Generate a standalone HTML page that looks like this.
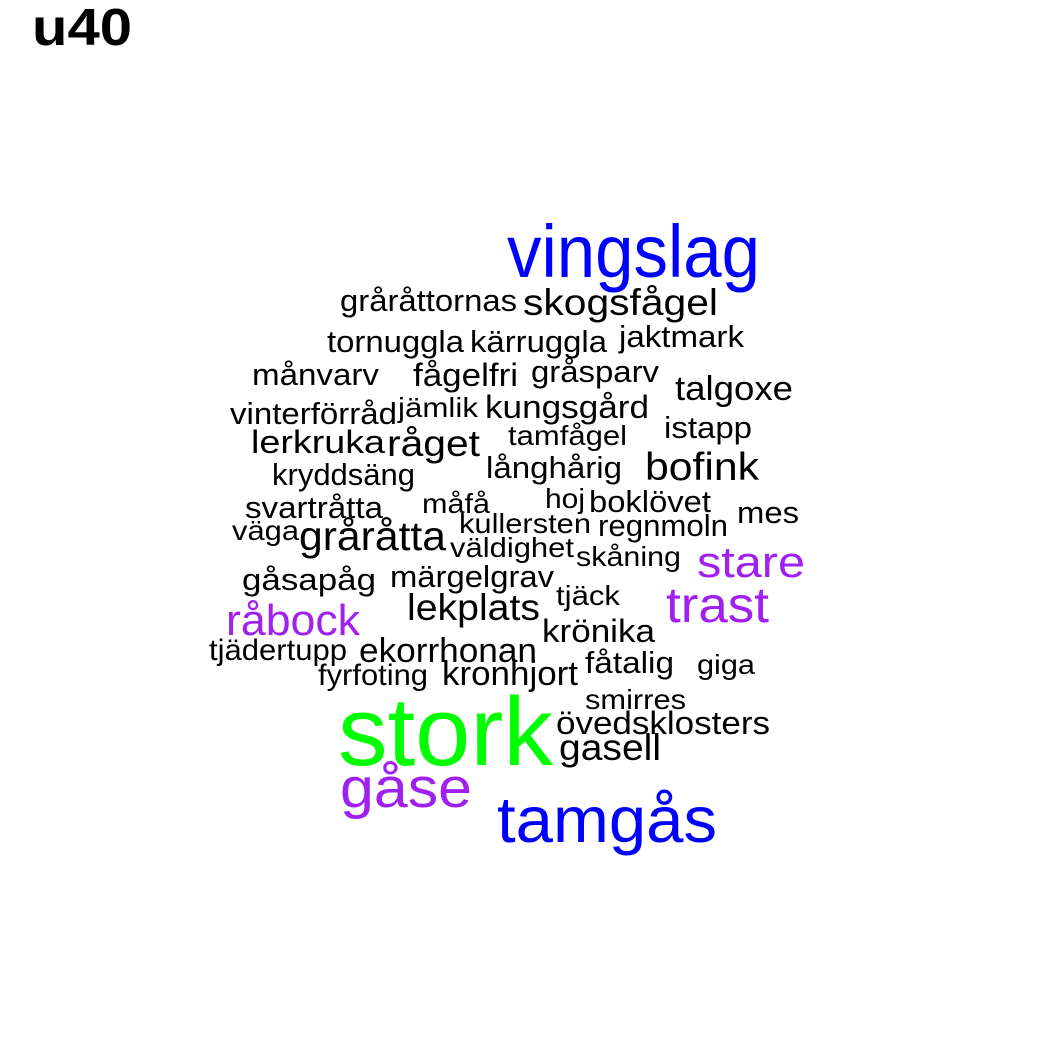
<!DOCTYPE html>
<html><head><meta charset="utf-8"><style>html,body{margin:0;padding:0;background:#fff}svg{display:block}text{font-family:"Liberation Sans",Arial,sans-serif}</style></head>
<body>
<svg id="cloud" width="1050" height="1050" viewBox="0 0 1050 1050" xmlns="http://www.w3.org/2000/svg">
<rect width="1050" height="1050" fill="#fff"/>
<text x="32" y="45" font-size="52" font-weight="bold" fill="#000" textLength="100" lengthAdjust="spacingAndGlyphs">u40</text>
</svg>
<script>
const words=["vingslag","gråråttornas","skogsfågel","tornuggla","kärruggla","jaktmark","månvarv","fågelfri","gråsparv","talgoxe","vinterförråd","jämlik","kungsgård","istapp","lerkruka","råget","tamfågel","långhårig","bofink","kryddsäng","svartråtta","måfå","hoj","boklövet","mes","väga","gråråtta","kullersten","regnmoln","väldighet","skåning","stare","gåsapåg","märgelgrav","tjäck","trast","råbock","lekplats","krönika","tjädertupp","ekorrhonan","fåtalig","giga","fyrfoting","kronhjort","smirres","stork","övedsklosters","gasell","gåse","tamgås"];
const sizes=[69,28,34,28,28,28,28,30,28,32,28,26,30,28,30,34,26,28,36,28,28,26,26,28,28,26,38,26,28,26,26,40,28,28,26,46,40,34,30,27,32,28,26,27,32,26,90,30,34,52,60];
const colors=["#0000ff","#000","#000","#000","#000","#000","#000","#000","#000","#000","#000","#000","#000","#000","#000","#000","#000","#000","#000","#000","#000","#000","#000","#000","#000","#000","#000","#000","#000","#000","#000","#a020f0","#000","#000","#000","#a020f0","#a020f0","#000","#000","#000","#000","#000","#000","#000","#000","#000","#00ff00","#000","#000","#a020f0","#0000ff"];
// layout boxes: [left, right, baseline]
const layout=[[507,760,277],[340,517,311],[523,718,315],[327,464,352],[470,607,352],[619,744,347],[252,379,385],[413,518,386],[531,659,382],[675,793,400],[230,397,424],[398,478,417],[485,649,418],[664,752,438],[251,385,453],[387,480,456],[508,627,445],[486,622,478],[645,759,480],[272,415,485],[245,383,518],[422,490,513],[545,585,508],[589,711,512],[737,799,523],[232,299,540],[299,446,550],[459,591,533],[598,728,536],[450,574,557],[576,681,566],[697,805,577],[242,376,590],[390,554,587],[556,620,605],[666,769,622],[226,360,635],[407,540,620],[542,655,642],[209,347,660],[359,537,662],[585,674,673],[697,755,674],[318,428,685],[442,578,685],[585,686,709],[338,553,765],[556,770,734],[559,661,760],[340,472,807],[497,717,842]];
const svg=document.getElementById('cloud');
words.forEach((w,i)=>{
  const t=document.createElementNS('http://www.w3.org/2000/svg','text');
  const b=layout[i];
  t.setAttribute('x',b[0]);
  t.setAttribute('y',b[2]);
  t.setAttribute('font-size',(sizes[i]*1.08).toFixed(1));
  t.setAttribute('fill',colors[i]);
  t.setAttribute('textLength',b[1]-b[0]);
  t.setAttribute('lengthAdjust','spacingAndGlyphs');
  
  
  t.textContent=w;
  svg.appendChild(t);
});
</script>
</body></html>
